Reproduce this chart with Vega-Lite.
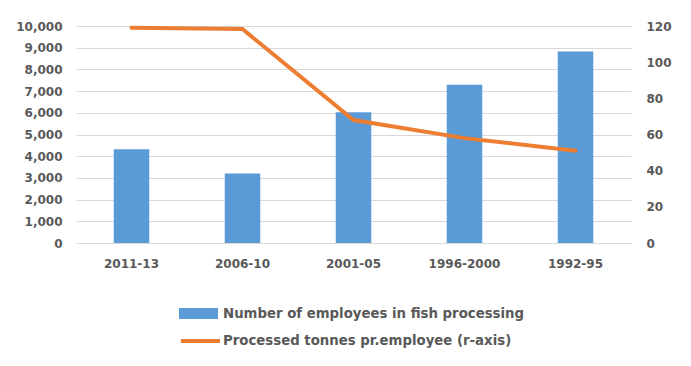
{
  "$schema": "https://vega.github.io/schema/vega-lite/v6.json",
  "width": 555,
  "height": 217,
  "autosize": "none",
  "padding": {"left": 76, "top": 26, "right": 60, "bottom": 123},
  "background": "white",
  "config": {"view": {"stroke": null}, "font": "DejaVu Sans"},
  "data": {
    "values": [
      {"period": "2011-13", "employees": 4320, "tonnes": 119},
      {"period": "2006-10", "employees": 3200, "tonnes": 118.3},
      {"period": "2001-05", "employees": 6030, "tonnes": 68},
      {"period": "1996-2000", "employees": 7290, "tonnes": 58},
      {"period": "1992-95", "employees": 8830, "tonnes": 51}
    ]
  },
  "encoding": {
    "x": {
      "field": "period",
      "type": "nominal",
      "sort": null,
      "scale": {"paddingInner": 0.68, "paddingOuter": 0.34},
      "axis": {
        "title": null,
        "labelAngle": 0,
        "ticks": false,
        "domainColor": "#d9d9d9",
        "labelPadding": 15,
        "labelFontSize": 12,
        "labelFontWeight": "bold",
        "labelColor": "#595959"
      }
    }
  },
  "layer": [
    {
      "mark": {"type": "bar"},
      "encoding": {
        "y": {
          "field": "employees",
          "type": "quantitative",
          "scale": {"domain": [0, 10000]},
          "axis": {
            "title": null,
            "values": [0, 1000, 2000, 3000, 4000, 5000, 6000, 7000, 8000, 9000, 10000],
            "format": ",d",
            "ticks": false,
            "domain": false,
            "gridColor": "#d9d9d9",
            "labelPadding": 14,
            "labelFontSize": 12,
            "labelFontWeight": "bold",
            "labelColor": "#595959"
          }
        },
        "fill": {
          "datum": "Number of employees in fish processing",
          "type": "nominal",
          "scale": {"range": ["#5b9bd5"]},
          "legend": {
            "orient": "none",
            "legendX": 103,
            "legendY": 268,
            "title": null,
            "padding": 0,
            "symbolType": "M-1,-0.28H1V0.28H-1Z",
            "symbolSize": 1521,
            "symbolStrokeWidth": 0,
            "labelOffset": 5,
            "labelLimit": 500,
            "labelFontSize": 13.3,
            "labelFontWeight": "bold",
            "labelColor": "#595959"
          }
        }
      }
    },
    {
      "mark": {"type": "line", "strokeWidth": 4, "strokeCap": "round"},
      "encoding": {
        "y": {
          "field": "tonnes",
          "type": "quantitative",
          "scale": {"domain": [0, 120]},
          "axis": {
            "orient": "right",
            "title": null,
            "values": [0, 20, 40, 60, 80, 100, 120],
            "grid": false,
            "ticks": false,
            "domain": false,
            "labelPadding": 15,
            "labelFontSize": 12,
            "labelFontWeight": "bold",
            "labelColor": "#595959"
          }
        },
        "stroke": {
          "datum": "Processed tonnes pr.employee (r-axis)",
          "type": "nominal",
          "scale": {"range": ["#ed7d31"]},
          "legend": {
            "orient": "none",
            "legendX": 103,
            "legendY": 293.5,
            "title": null,
            "padding": 0,
            "symbolType": "M-1,0H1",
            "symbolSize": 1521,
            "symbolStrokeWidth": 4,
            "labelOffset": 1,
            "labelLimit": 500,
            "labelFontSize": 13.3,
            "labelFontWeight": "bold",
            "labelColor": "#595959"
          }
        }
      }
    }
  ],
  "resolve": {"scale": {"y": "independent", "fill": "independent", "stroke": "independent"}}
}
